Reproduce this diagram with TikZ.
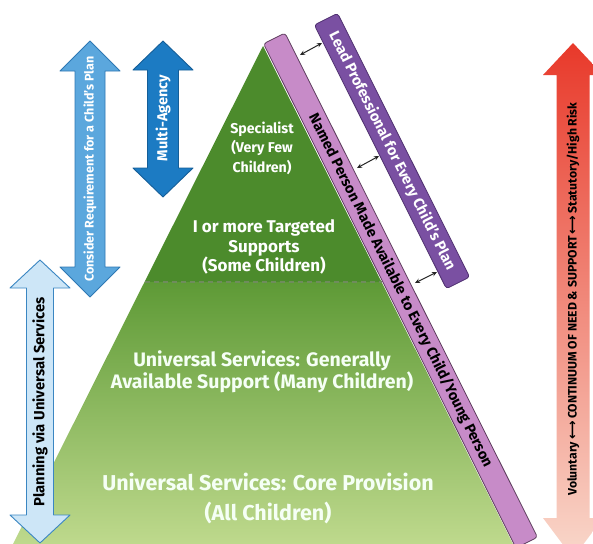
\documentclass[tikz,border=0pt]{standalone}
\usepackage{fontspec}
\setmainfont{Fira Sans}
\newfontfamily\symf{DejaVu Sans}
\usetikzlibrary{arrows.meta}
\definecolor{pyrdark}{HTML}{4C8B2C}
\definecolor{pyrmid}{HTML}{5E9A36}
\definecolor{pyrlight}{HTML}{C4DD92}
\definecolor{dashc}{HTML}{6F8C5C}
\definecolor{lavfill}{HTML}{C78BC8}
\definecolor{lavline}{HTML}{5E3E5E}
\definecolor{purfill}{HTML}{7A50A2}
\definecolor{purline}{HTML}{4F3070}
\definecolor{bluemid}{HTML}{5BA7DD}
\definecolor{bluemidline}{HTML}{2E78B4}
\definecolor{bluedark}{HTML}{1C7BC3}
\definecolor{bluedarkline}{HTML}{145E98}
\definecolor{bluelight}{HTML}{CDE6F7}
\definecolor{bluelightline}{HTML}{3A86C2}
\definecolor{redtop}{HTML}{E8392A}
\definecolor{peach}{HTML}{F9D8CB}
\newcommand{\varrow}[6]{(#1,#2) -- (#1+#4,#2+#6) -- (#1+#5,#2+#6) -- (#1+#5,#3-#6) -- (#1+#4,#3-#6) -- (#1,#3) -- (#1-#4,#3-#6) -- (#1-#5,#3-#6) -- (#1-#5,#2+#6) -- (#1-#4,#2+#6) -- cycle}
\newcommand{\lr}{{\symf\bfseries\fontsize{13}{13}\selectfont ⟷}}
\begin{document}
\begin{tikzpicture}[x=1pt,y=-1pt,line join=round,
  wtxt/.style={text=white,font=\bfseries\fontsize{#1}{19.5}\selectfont,align=center,inner sep=0pt},
  wbig/.style={text=white!96!green,font=\bfseries\fontsize{#1}{22}\selectfont,align=center,inner sep=0pt},
  wbigger/.style={text=white!96!green,font=\bfseries\fontsize{#1}{30}\selectfont,align=center,inner sep=0pt},
  vtxt/.style={rotate=90,font=\bfseries\fontsize{#1}{#1}\selectfont,inner sep=0pt},
  lavband/.style={rotate=-63.4,draw=lavline,line width=0.8pt,fill=lavfill,rounded corners=3pt,minimum width=564pt,minimum height=24pt,inner sep=0pt,font=\bfseries\fontsize{14.6}{14.6}\selectfont,text=black},
  purband/.style={rotate=-63.4,draw=purline,line width=0.8pt,fill=purfill,rounded corners=3pt,minimum width=295pt,minimum height=26pt,inner sep=0pt,font=\bfseries\fontsize{14.8}{14.8}\selectfont,text=white},
  link/.style={{Stealth[length=5pt,width=4.5pt]}-{Stealth[length=5pt,width=4.5pt]},line width=1pt,black!85},
  dashline/.style={dashc,line width=1.6pt,dash pattern=on 5pt off 4pt}]
\clip (0,0) rectangle (593,543);
\fill[white] (0,0) rectangle (593,543);
% pyramid
\coordinate (apex) at (263,46);
\coordinate (dl) at (144.5,282);
\coordinate (dr) at (381.5,282);
\coordinate (bl) at (5,560);
\coordinate (br) at (521,560);
\fill[pyrdark] (apex) -- (dl) -- (dr) -- cycle;
\shade[top color=pyrmid,bottom color=pyrlight] (dl) -- (bl) -- (br) -- (dr) -- cycle;
\draw[dashline] (dl) -- (dr);
\node[wtxt=14.2] (spec) at (262,148) {Specialist\\(Very Few\\Children)};
\node[wtxt=17] (targ) at (264,247) {I or more Targeted\\Supports\\(Some Children)};
\node[wbig=19.5] (gen) at (262,372) {Universal Services: Generally\\Available Support (Many Children)};
\node[wbigger=21.5] (core) at (268,498) {Universal Services: Core Provision\\(All Children)};
% bands
\node[lavband] (named) at (400.5,290.5) {Named Person Made Available to Every Child/Young Person};
\node[purband] (lead) at (392,151) {Lead Professional for Every Child's Plan};
\coordinate (a1s) at (300,55);  \coordinate (a1e) at (322,43);
\coordinate (a2s) at (357,168); \coordinate (a2e) at (379,156);
\coordinate (a3s) at (415,283); \coordinate (a3e) at (437,272);
\draw[link] (a1s) -- (a1e);
\draw[link] (a2s) -- (a2e);
\draw[link] (a3s) -- (a3e);
% left arrows
\draw[fill=bluemid,draw=bluemidline,line width=0.9pt] \varrow{90}{41}{297}{30}{15}{30};
\node[vtxt=12.5,text=white] (consider) at (90,169) {Consider Requirement for a Child's Plan};
\draw[fill=bluedark,draw=bluedarkline,line width=0.9pt] \varrow{163}{41}{197}{30}{15.5}{29};
\node[vtxt=14.5,text=white] (multi) at (163,118) {Multi-Agency};
\draw[fill=bluelight,draw=bluelightline,line width=0.9pt] \varrow{40}{260}{543}{30}{13.5}{28};
\node[vtxt=14.8,text=black] (plan) at (40,402) {Planning via Universal Services};
% right arrow
\shade[top color=redtop,bottom color=peach] (573,43) -- (603,75) -- (589.5,75) -- (589.5,518) -- (603,518) -- (573,558) -- (543,518) -- (556.5,518) -- (556.5,75) -- (543,75) -- cycle;
\node[vtxt=12.2,text=black] (cont) at (573,299) {Voluntary\,\lr\,CONTINUUM OF NEED \& SUPPORT\,\lr\,Statutory/High Risk};
\end{tikzpicture}
\end{document}
